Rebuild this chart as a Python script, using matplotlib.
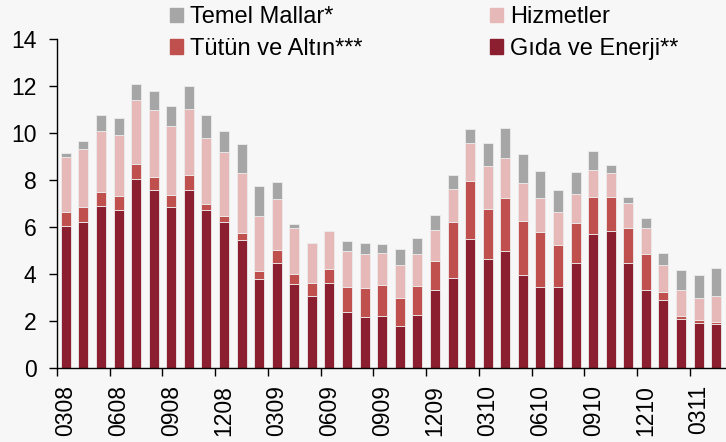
import numpy as np
import matplotlib.pyplot as plt
from matplotlib.patches import Patch

# monthly contributions (percentage points), Mar 2008 - Apr 2011
months = ['0308', '0408', '0508', '0608', '0708', '0808', '0908', '1008', '1108', '1208',
          '0109', '0209', '0309', '0409', '0509', '0609', '0709', '0809', '0909', '1009',
          '1109', '1209', '0110', '0210', '0310', '0410', '0510', '0610', '0710', '0810',
          '0910', '1010', '1110', '1210', '0111', '0211', '0311', '0411']

gida = [6.02, 6.23, 6.91, 6.71, 8.02, 7.55, 6.83, 7.55, 6.74, 6.19,
        5.46, 3.81, 4.45, 3.56, 3.09, 3.64, 2.41, 2.18, 2.24, 1.81,
        2.27, 3.31, 3.85, 5.51, 4.62, 5.00, 3.95, 3.47, 3.47, 4.49,
        5.72, 5.81, 4.49, 3.31, 2.88, 2.11, 1.91, 1.86]
tutun = [0.62, 0.63, 0.58, 0.60, 0.66, 0.55, 0.52, 0.64, 0.23, 0.29,
         0.29, 0.31, 0.58, 0.45, 0.54, 0.58, 1.05, 1.23, 1.30, 1.18,
         1.24, 1.24, 2.35, 2.46, 2.14, 2.24, 2.31, 2.32, 1.77, 1.66,
         1.57, 1.48, 1.47, 1.53, 0.38, 0.13, 0.16, 0.12]
hizmet = [2.35, 2.43, 2.58, 2.58, 2.72, 2.88, 2.95, 2.83, 2.79, 2.69,
          2.54, 2.35, 2.15, 1.95, 1.71, 1.60, 1.54, 1.45, 1.36, 1.40,
          1.33, 1.33, 1.42, 1.59, 1.84, 1.67, 1.60, 1.45, 1.39, 1.26,
          1.14, 1.00, 1.07, 1.12, 1.13, 1.10, 0.93, 1.11]
temel = [0.16, 0.37, 0.68, 0.72, 0.67, 0.79, 0.83, 0.98, 1.00, 0.89,
         1.22, 1.28, 0.71, 0.17, -0.10, -0.10, 0.40, 0.48, 0.36, 0.68,
         0.68, 0.64, 0.57, 0.58, 0.96, 1.27, 1.23, 1.13, 0.95, 0.92,
         0.81, 0.32, 0.26, 0.43, 0.51, 0.82, 0.97, 1.17]

c_gida = '#8B1F2F'
c_tutun = '#C0504D'
c_hiz = '#E6B8B7'
c_temel = '#A6A6A6'
bg = '#F7F7F7'

plt.rcParams['font.family'] = ['Liberation Sans', 'DejaVu Sans']

fig = plt.figure(figsize=(7.26, 4.42), dpi=100, facecolor=bg)
ax = fig.add_axes([57 / 726, 1 - 368.3 / 442, 668 / 726, (368.3 - 38.5) / 442])
ax.set_facecolor(bg)

x = np.arange(len(months))
g = np.array(gida)
t = np.array(tutun)
h = np.array(hizmet)
m = np.array(temel)
w = 0.57
ec = '#ececec'
lw = 0.6

ax.bar(x, g, w, color=c_gida, edgecolor=ec, linewidth=lw)
ax.bar(x, t, w, bottom=g, color=c_tutun, edgecolor=ec, linewidth=lw)
ax.bar(x, h, w, bottom=g + t, color=c_hiz, edgecolor=ec, linewidth=lw)
# negative values of temel mallar hang below zero
ax.bar(x, m, w, bottom=np.where(m >= 0, g + t + h, 0), color=c_temel, edgecolor=ec, linewidth=lw)

ax.set_xlim(-0.5, 37.5)
ax.set_ylim(0, 14)
ax.set_yticks(range(0, 15, 2))
ax.set_xticks(x[::3])
ax.set_xticklabels(months[::3], rotation=90)
ax.set_xticks(x[::3] - 0.5, minor=True)
ax.tick_params(axis='x', which='major', length=0, labelsize=16.5, pad=12)
ax.tick_params(axis='x', which='minor', length=5.5, width=1, direction='out')
ax.tick_params(axis='y', length=5.8, width=1, labelsize=16.5, pad=9)

for s in ['top', 'right']:
    ax.spines[s].set_visible(False)
ax.spines['left'].set_linewidth(1)
ax.spines['bottom'].set_linewidth(1)

handles = [Patch(color=c_temel), Patch(color=c_tutun), Patch(color=c_hiz), Patch(color=c_gida)]
labels = ['Temel Mallar*', 'Tütün ve Altın***', 'Hizmetler', 'Gıda ve Enerji**']
fig.legend(handles, labels, ncol=2, loc='upper left', bbox_to_anchor=(170 / 726, 1 - 6 / 442),
           frameon=False, fontsize=17, handlelength=0.55, handleheight=0.55, handletextpad=0.3,
           columnspacing=5.4, labelspacing=0.42, borderpad=0, borderaxespad=0)

fig.savefig('out.png', dpi=100, facecolor=bg)
